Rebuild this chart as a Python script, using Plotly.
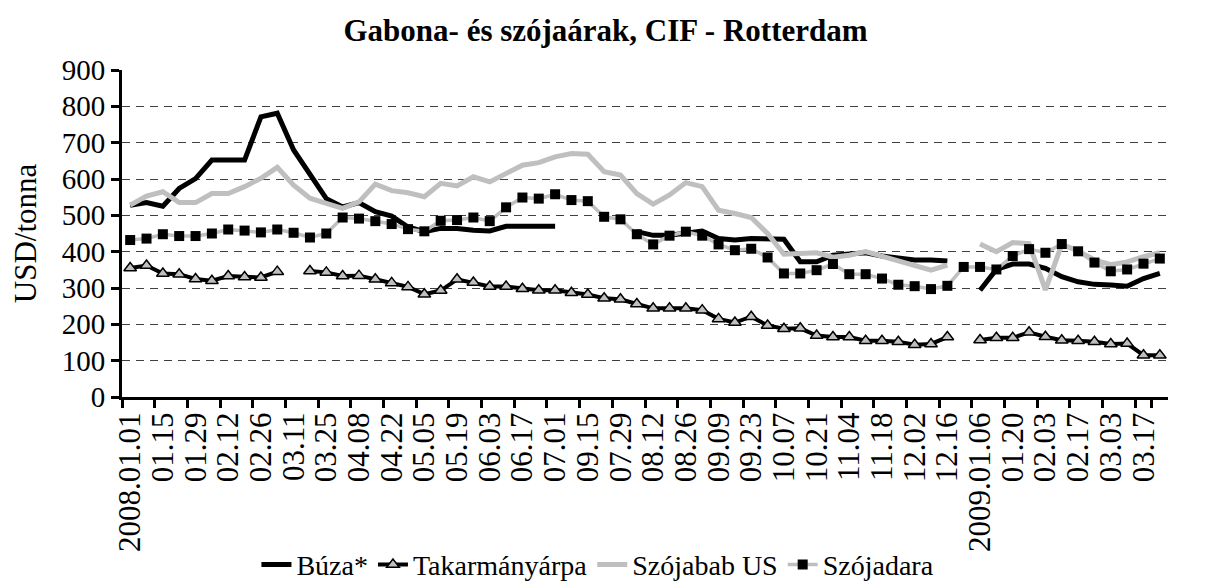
import plotly.graph_objects as go

categories = [
    "2008.01.01", "2008.01.08", "2008.01.15", "2008.01.22", "2008.01.29", "2008.02.05",
    "2008.02.12", "2008.02.19", "2008.02.26", "2008.03.04", "2008.03.11", "2008.03.18",
    "2008.03.25", "2008.04.01", "2008.04.08", "2008.04.15", "2008.04.22", "2008.04.29",
    "2008.05.05", "2008.05.13", "2008.05.19", "2008.05.27", "2008.06.03", "2008.06.10",
    "2008.06.17", "2008.06.24", "2008.07.01", "2008.07.08", "2008.07.15", "2008.07.22",
    "2008.07.29", "2008.08.05", "2008.08.12", "2008.08.19", "2008.08.26", "2008.09.02",
    "2008.09.09", "2008.09.16", "2008.09.23", "2008.09.30", "2008.10.07", "2008.10.14",
    "2008.10.21", "2008.10.28", "2008.11.04", "2008.11.11", "2008.11.18", "2008.11.25",
    "2008.12.02", "2008.12.09", "2008.12.16", "2008.12.23", "2009.01.06", "2009.01.13",
    "2009.01.20", "2009.01.27", "2009.02.03", "2009.02.10", "2009.02.17", "2009.02.24",
    "2009.03.03", "2009.03.10", "2009.03.17", "2009.03.24",
]

tick_labels = [
    "2008.01.01", "01.15", "01.29", "02.12", "02.26", "03.11", "03.25", "04.08",
    "04.22", "05.05", "05.19", "06.03", "06.17", "07.01", "09.15", "07.29",
    "08.12", "08.26", "09.09", "09.23", "10.07", "10.21", "11.04", "11.18",
    "12.02", "12.16", "2009.01.06", "01.20", "02.03", "02.17", "03.03", "03.17",
]

N = None
buza = [
    528, 535, 525, 574, 601, 652, 652, 652, 771, 781,
    680, 611, 546, 523, 535, 510, 498, 468, 455, 464,
    464, 459, 457, 470, 470, 470, 470, N, N, N,
    N, 455, 445, 445, 450, 457, 436, 432, 436, 434,
    434, 372, 372, 390, 393, 397, 388, 381, 377, 377,
    374, N, 294, 351, 366, 366, 354, 331, 317, 310,
    308, 305, 326, 340,
]

takarmanyarpa = [
    355, 362, 340, 338, 325, 320, 333, 330, 329, 345,
    N, 347, 343, 333, 334, 324, 314, 303, 283, 293,
    324, 315, 304, 304, 298, 294, 294, 287, 282, 272,
    269, 256, 244, 244, 244, 239, 215, 205, 221, 197,
    188, 189, 169, 165, 165, 155, 155, 152, 144, 146,
    165, N, 157, 163, 163, 178, 166, 156, 155, 152,
    146, 147, 115, 115,
]

szojabab_us = [
    528, 553, 565, 535, 535, 560, 560, 579, 602, 632,
    583, 547, 533, 519, 537, 586, 568, 562, 551, 588,
    581, 606, 592, 615, 638, 645, 661, 670, 668, 620,
    611, 560, 531, 556, 590, 579, 514, 505, 494, 450,
    393, 395, 397, 385, 390, 400, 387, 375, 362, 349,
    363, N, 421, 400, 425, 422, 295, 420, 402, 377,
    364, 372, 386, 397,
]

szojadara = [
    432, 436, 448, 443, 443, 450, 461, 458, 453, 461,
    452, 439, 450, 494, 491, 484, 476, 462, 456, 485,
    487, 494, 484, 522, 549, 546, 558, 542, 539, 496,
    489, 448, 420, 444, 455, 444, 420, 404, 408, 384,
    340, 340, 349, 366, 338, 338, 326, 309, 305, 297,
    306, 358, 358, 351, 388, 407, 397, 421, 401, 370,
    346, 351, 367, 381,
]

FONT = "Liberation Serif, Times New Roman, serif"
GREY = "#bfbfbf"

fig = go.Figure()
fig.add_trace(go.Scatter(
    x=categories, y=buza, name="Búza*", mode="lines",
    line=dict(color="black", width=5),
))
fig.add_trace(go.Scatter(
    x=categories, y=takarmanyarpa, name="Takarmányárpa", mode="lines+markers",
    line=dict(color="black", width=4),
    marker=dict(symbol="triangle-up", size=11, color=GREY,
                line=dict(color="black", width=1.5)),
))
fig.add_trace(go.Scatter(
    x=categories, y=szojabab_us, name="Szójabab US", mode="lines",
    line=dict(color=GREY, width=5),
))
fig.add_trace(go.Scatter(
    x=categories, y=szojadara, name="Szójadara", mode="lines+markers",
    line=dict(color=GREY, width=3.5),
    marker=dict(symbol="square", size=10, color="black",
                line=dict(color="black", width=0)),
))

fig.update_layout(
    width=1232, height=583,
    paper_bgcolor="white", plot_bgcolor="white",
    margin=dict(l=114, r=72, t=62, b=194, autoexpand=False),
    font=dict(family=FONT, size=28, color="black"),
    title=dict(text="Gabona- és szójaárak, CIF - Rotterdam",
               font=dict(family=FONT, size=31, color="black", weight="bold"),
               x=0.485, xref="container", xanchor="center",
               y=0.962, yref="container", yanchor="middle"),
    showlegend=True,
    legend=dict(orientation="h", x=0.455, xanchor="center",
                y=0.045, yref="container", yanchor="middle",
                font=dict(family=FONT, size=28, color="black"),
                bgcolor="rgba(0,0,0,0)", itemwidth=30, tracegroupgap=0),
)

fig.update_xaxes(
    type="category", categoryorder="array", categoryarray=categories,
    range=[-0.5, len(categories) - 0.5],
    tickmode="array", tickvals=categories[::2], ticktext=tick_labels,
    tickangle=-90, tickson="boundaries", automargin=False,
    ticks="outside", ticklen=8, tickwidth=3, tickcolor="black",
    showline=True, linecolor="black", linewidth=3,
    showgrid=False, zeroline=False,
    tickfont=dict(family=FONT, size=31, color="black"),
)
fig.update_yaxes(
    range=[0, 900], tick0=0, dtick=100, automargin=False,
    ticks="outside", ticklen=8, tickwidth=3, tickcolor="black",
    showline=True, linecolor="black", linewidth=3,
    showgrid=True, gridcolor="#404040", gridwidth=1, griddash="8px,6px",
    zeroline=False,
    title=dict(text="USD/tonna", font=dict(family=FONT, size=31, color="black"), standoff=24),
    tickfont=dict(family=FONT, size=29, color="black"),
)

fig.write_html("out.html")
